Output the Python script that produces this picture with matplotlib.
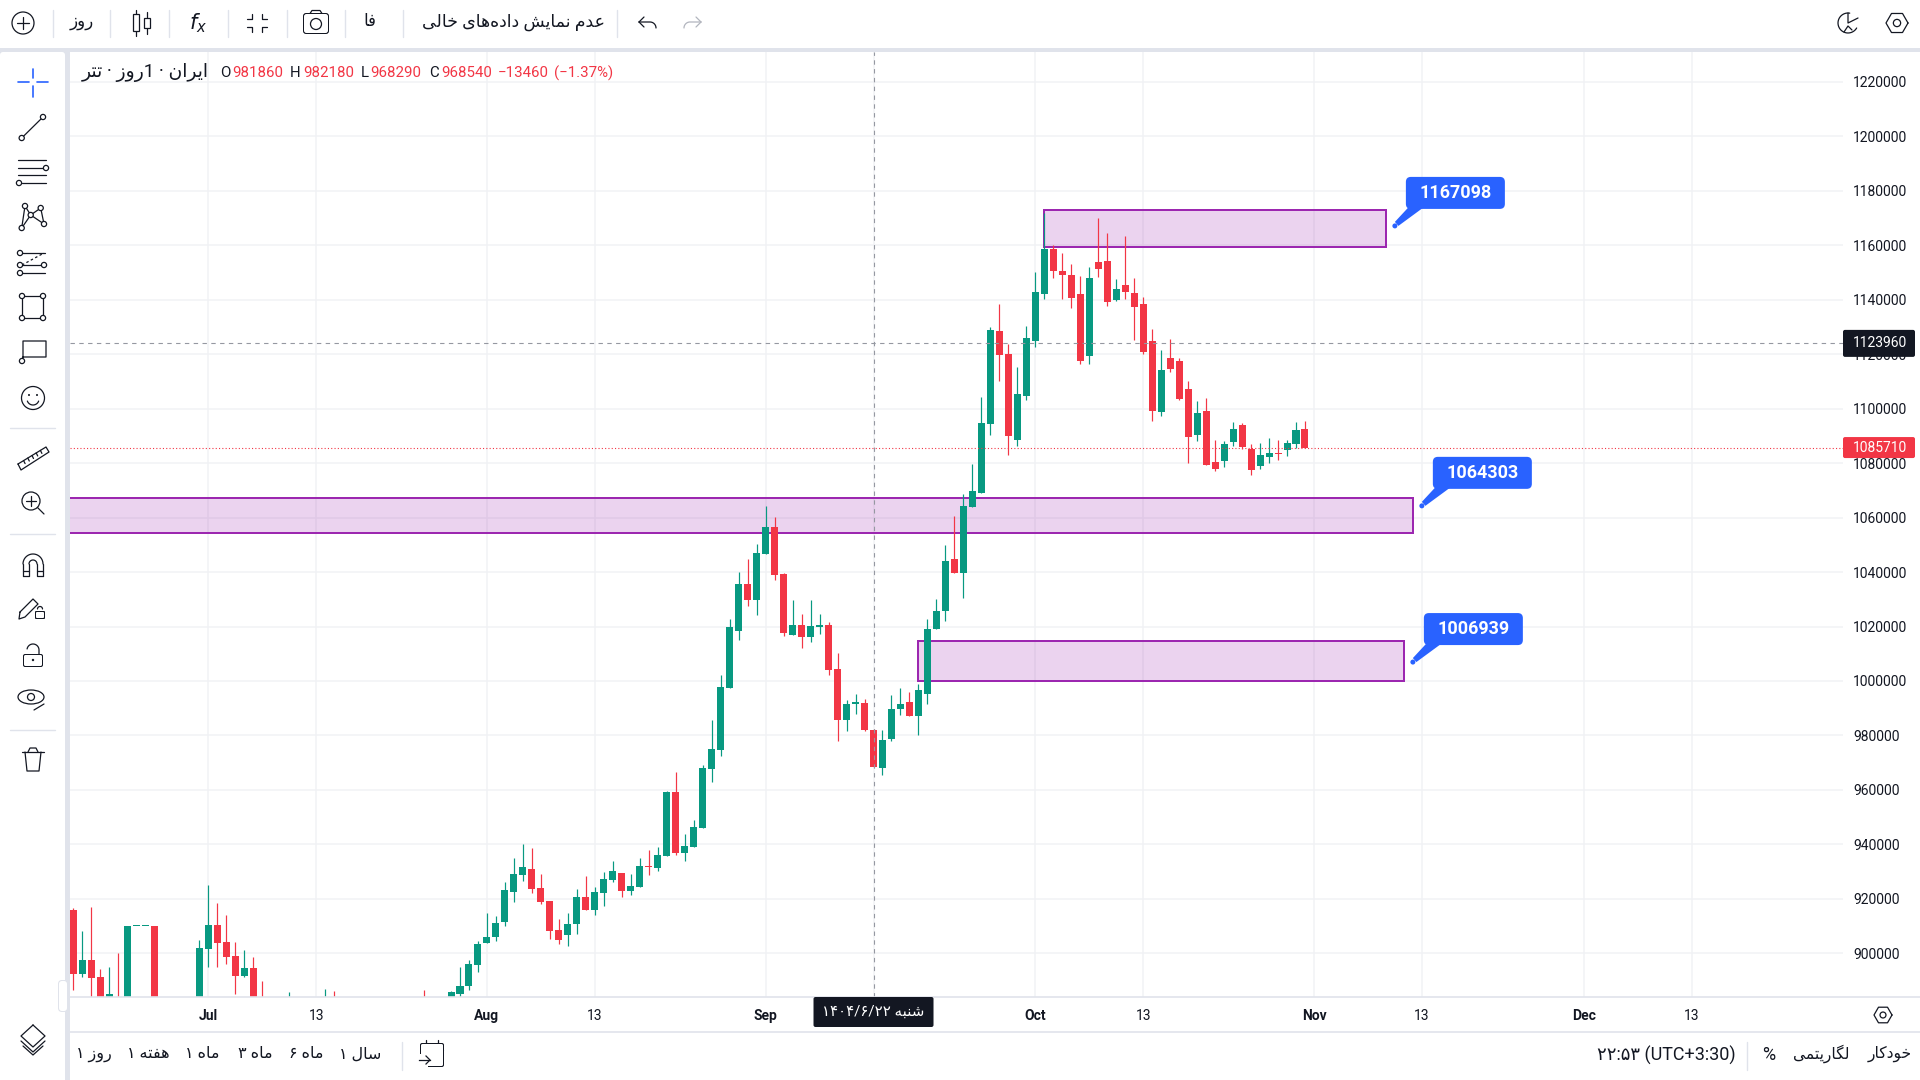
import numpy as np
import pandas as pd
import matplotlib
matplotlib.use("Agg")
import matplotlib.pyplot as plt
import matplotlib.dates as mdates
from matplotlib.patches import Rectangle, Circle, Ellipse, Polygon, FancyBboxPatch

plt.rcParams["font.family"] = ["Roboto", "DejaVu Sans"]

INK = "#131722"
GREEN = "#089981"
RED = "#f23645"
BLUE = "#2962ff"
PAGE = "#e0e3eb"
GRID = "#f1f2f5"
CROSS = "#9598a1"
PX = 0.72  # one pixel in points at dpi 100

# daily candles, 2025-06-16 .. 2025-10-31, nan = below the visible price range
n = np.nan
opens = [915900, 892400, 897540, 891300, 880000, 882000, 880000, 910000, 910000, 910000, n, n, n, n, 880000,
         901580, 910390, 904150, 899010, 891660, 894600, 882000, n, n, 878000, n, n, n, 878000, 881000,
         n, n, n, n, n, n, n, n, n, 881000, n, n, 883000, 885060, 887990, 895700, 903780, 905990, 911490,
         922510, 928750, 930950, 923980, 919200, 908560, 906720, 910760, 920670, 915900, 922150, 926910,
         929490, 922880, 924340, 932060, 931320, 935730, 959230, 936830, 939030, 946010, 967670, 974650,
         997420, 1018350, 1035610, 1029740, 1046630, 1056540, 1039290, 1016880, 1020550, 1016150, 1019820,
         1020550, 1004400, 985670, 991700, 991915, 981860, 968040, 978700, 989710, 992280, 987140, 995220,
         1019090, 1025700, 1044790, 1039650, 1063880, 1069020, 1094360, 1128510, 1120060, 1088480, 1104640,
         1124840, 1142100, 1158620, 1150540, 1149070, 1142100, 1119330, 1153850, 1154210, 1139890, 1145400,
         1142460, 1138420, 1124840, 1098770, 1118590, 1117500, 1107210, 1090320, 1099130, 1080400, 1080770,
         1087750, 1093990, 1085180, 1078940, 1082240, 1083710, 1084810, 1087010, 1092530]
highs = [916600, 908190, 917000, 894200, 895000, 900110, 910000, 910000, 910000, 910000, n, n, n, n, 904900,
         925080, 918470, 914060, 904150, 901210, 898640, 889830, n, n, 885790, n, n, n, 886890, 886160,
         n, n, n, n, n, n, n, n, n, 886520, n, n, 886160, 894970, 897540, 904520, 914800, 913700, 926180,
         934990, 940130, 938660, 929120, 919200, 912600, 914800, 923610, 928380, 924340, 929850, 933890,
         929490, 929120, 934990, 937930, 939030, 959600, 966570, 943800, 948950, 969140, 985670, 1002190,
         1022760, 1040020, 1044790, 1050300, 1064250, 1060210, 1039650, 1029740, 1024600, 1029740, 1024600,
         1021660, 1010270, 993020, 995220, 993380, 982180, 981990, 994850, 997420, 995950, 998890, 1022760,
         1030100, 1049930, 1060580, 1068660, 1079670, 1104270, 1129980, 1138420, 1123740, 1115290, 1130340,
         1150170, 1172000, 1160090, 1157150, 1153110, 1148700, 1152010, 1170000, 1164500, 1147600, 1163400,
         1147970, 1141000, 1129240, 1121530, 1125570, 1118590, 1110150, 1102800, 1103910, 1088480, 1088120,
         1095090, 1094730, 1087010, 1087380, 1089220, 1088480, 1088480, 1095090, 1095460]
lows = [886500, 891300, 880000, 878000, 878000, 877000, 878000, 910000, 910000, 878000, n, n, n, n, 878000,
        894970, 894970, 896070, 885060, 891300, 880000, 878000, n, n, 877000, n, n, n, 877000, 877000,
        n, n, n, n, n, n, n, n, n, 877000, n, n, 882000, 883000, 886520, 893130, 903780, 904520, 910030,
        918840, 926550, 922150, 918100, 905250, 903410, 902680, 907090, 915900, 914060, 917370, 926180,
        920670, 921410, 924340, 928750, 930220, 935730, 936100, 933890, 939030, 946010, 962900, 972440,
        997420, 1015050, 1027530, 1024230, 1046630, 1037080, 1016520, 1016880, 1012110, 1014310, 1017250,
        1002200, 977960, 981630, 987870, 981630, 968290, 965480, 977960, 987510, 987140, 980170, 991550,
        1019090, 1022030, 1039650, 1030470, 1063880, 1069020, 1090320, 1110150, 1082980, 1086280, 1103170,
        1122630, 1140260, 1147970, 1140260, 1136950, 1116390, 1116390, 1148340, 1137690, 1139530, 1140260,
        1125200, 1120060, 1095460, 1097300, 1113450, 1103170, 1080040, 1088120, 1079300, 1077100, 1078570,
        1086280, 1085180, 1075630, 1077840, 1080040, 1081130, 1082610, 1085550, 1085710]
closes = [892400, 897540, 890930, 880000, 885060, 878000, 910000, 910000, 910000, 880000, n, n, n, n, 901950,
          910390, 903780, 898640, 891660, 894600, 882000, 879000, n, n, 881000, n, n, n, 881000, 878000,
          n, n, n, n, n, n, n, n, n, 878000, n, n, 885790, 887990, 896070, 903420, 905990, 911130, 923244,
          929120, 931690, 923610, 918840, 908190, 904880, 910760, 920670, 915900, 922510, 927280, 930220,
          922880, 924710, 932060, 931700, 936100, 959230, 936830, 939400, 946380, 968040, 975020, 997790,
          1019820, 1035610, 1029740, 1047000, 1056540, 1038920, 1017620, 1020550, 1016150, 1020190, 1020550,
          1004030, 985670, 991550, 991900, 982000, 968540, 978330, 989710, 991550, 987140, 996690, 1019090,
          1025700, 1044060, 1039650, 1064250, 1069760, 1094730, 1128880, 1119700, 1089950, 1105380, 1125940,
          1142830, 1158620, 1150540, 1149070, 1140630, 1117490, 1147970, 1151280, 1139160, 1143930, 1142830,
          1137320, 1120800, 1099130, 1114190, 1114560, 1103540, 1089580, 1098400, 1079300, 1077840, 1087010,
          1092530, 1085910, 1077470, 1082980, 1083710, 1083340, 1087380, 1092150, 1085710]
first_day = "2025-06-16"

# marked supply/demand zones
zone_starts = ["2025-05-20", "2025-09-18", "2025-10-02"]
zone_ends = ["2025-11-12", "2025-11-11", "2025-11-09"]
zone_tops = [1067310, 1014680, 1172900]
zone_bottoms = [1054455, 999990, 1159354]
note_days = ["2025-11-13", "2025-11-12", "2025-11-10"]
note_values = [1064303, 1006939, 1167098]

price_ticks = list(range(900000, 1220001, 20000))
month_ticks = ["2025-07-01", "2025-08-01", "2025-09-01", "2025-10-01", "2025-11-01", "2025-12-01"]
month_names = ["Jul", "Aug", "Sep", "Oct", "Nov", "Dec"]
mid_ticks = ["2025-07-13", "2025-08-13", "2025-09-13", "2025-10-13", "2025-11-13", "2025-12-13"]
cross_day = "2025-09-13"
cross_price = 1123960

# arabic letter forms: isolated, final, initial, medial
FORMS = {
    "ا": (0xFE8D, 0xFE8E), "د": (0xFEA9, 0xFEAA), "ر": (0xFEAD, 0xFEAE), "ز": (0xFEAF, 0xFEB0), "و": (0xFEED, 0xFEEE),
    "ب": (0xFE8F, 0xFE90, 0xFE91, 0xFE92), "ت": (0xFE95, 0xFE96, 0xFE97, 0xFE98),
    "خ": (0xFEA5, 0xFEA6, 0xFEA7, 0xFEA8), "س": (0xFEB1, 0xFEB2, 0xFEB3, 0xFEB4),
    "ش": (0xFEB5, 0xFEB6, 0xFEB7, 0xFEB8), "ع": (0xFEC9, 0xFECA, 0xFECB, 0xFECC),
    "ف": (0xFED1, 0xFED2, 0xFED3, 0xFED4), "ک": (0xFB8E, 0xFB8F, 0xFB90, 0xFB91),
    "گ": (0xFB92, 0xFB93, 0xFB94, 0xFB95), "ل": (0xFEDD, 0xFEDE, 0xFEDF, 0xFEE0),
    "م": (0xFEE1, 0xFEE2, 0xFEE3, 0xFEE4), "ن": (0xFEE5, 0xFEE6, 0xFEE7, 0xFEE8),
    "ه": (0xFEE9, 0xFEEA, 0xFEEB, 0xFEEC), "ی": (0xFBFC, 0xFBFD, 0xFBFE, 0xFBFF),
}


def fa(text):
    # matplotlib does no shaping, so join the letters and lay them out right to left
    out = []
    for k, ch in enumerate(text):
        if ch == "\u200c":
            continue
        if ch not in FORMS:
            out.append(ch)
            continue
        f = FORMS[ch]
        prev = text[k - 1] if k else ""
        nxt = text[k + 1] if k + 1 < len(text) else ""
        join_prev = prev in FORMS and len(FORMS[prev]) == 4
        join_next = nxt in FORMS and len(f) == 4
        if join_prev and join_next:
            out.append(chr(f[3]))
        elif join_next:
            out.append(chr(f[2]))
        elif join_prev:
            out.append(chr(f[1]))
        else:
            out.append(chr(f[0]))
    return "".join(reversed(out))


fig = plt.figure(figsize=(19.2, 10.8), dpi=100, facecolor=PAGE)


def pane_rect(x0, y0, x1, y1):
    return [x0 / 1920, 1 - y1 / 1080, (x1 - x0) / 1920, (y1 - y0) / 1080]


bg = fig.add_axes([0, 0, 1, 1], zorder=0)
bg.set_xlim(0, 1920)
bg.set_ylim(1080, 0)
bg.axis("off")
bg.add_patch(Rectangle((0, 0), 1920, 48, fc="white", ec="none"))
bg.add_patch(FancyBboxPatch((3, 55), 59, 1030, boxstyle="round,pad=3,rounding_size=3", fc="white", ec="none"))
bg.add_patch(Rectangle((70, 52), 1850, 1028, fc="white", ec="none"))

# price pane
ax = fig.add_axes(pane_rect(70, 52, 1843, 997.3), zorder=1)
dates = pd.date_range(first_day, periods=len(opens), freq="D")
xs = mdates.date2num(dates)
o, h, l, c = map(lambda v: np.array(v, dtype=float), (opens, highs, lows, closes))
rising = c >= o

for sp in ax.spines.values():
    sp.set_visible(False)
ax.set_xlim(mdates.date2num(pd.Timestamp("2025-07-01")) - 15.385, mdates.date2num(pd.Timestamp("2025-07-01")) + 181.85)
ax.set_ylim(883843, 1230957)
ax.set_axisbelow(True)
ax.grid(True, color=GRID, lw=1.5 * PX)

ax.yaxis.tick_right()
ax.set_yticks(price_ticks)
ax.set_yticklabels([str(p) for p in price_ticks], fontsize=10, color=INK)
ax.tick_params(axis="y", length=0, pad=7.2)
tick_days = sorted(month_ticks + mid_ticks)
ax.set_xticks(mdates.date2num(pd.to_datetime(tick_days)))
tick_names = []
for d in tick_days:
    if d in month_ticks:
        tick_names.append(month_names[month_ticks.index(d)])
    else:
        # the crosshair date tag sits on this day's label
        tick_names.append("" if d == cross_day else "13")
ax.set_xticklabels(tick_names, fontsize=10, color=INK)
for lab in ax.get_xticklabels():
    if lab.get_text() != "13":
        lab.set_fontweight("bold")
ax.tick_params(axis="x", length=0, pad=8.3)

# zones
for s, e, t, b in zip(zone_starts, zone_ends, zone_tops, zone_bottoms):
    x0 = mdates.date2num(pd.Timestamp(s))
    x1 = mdates.date2num(pd.Timestamp(e))
    ax.add_patch(Rectangle((x0, b), x1 - x0, t - b, fc=(156 / 255, 39 / 255, 176 / 255, 0.2),
                           ec="#9c27b0", lw=2 * PX, zorder=2))

# candles
for mask, col in ((rising, GREEN), (~rising, RED)):
    keep = mask & ~np.isnan(o)
    ax.vlines(xs[keep], l[keep], h[keep], color=col, lw=1.2 * PX, zorder=3)
    lo = np.minimum(o[keep], c[keep])
    tall = np.maximum(np.abs(c[keep] - o[keep]), 500)
    ax.bar(xs[keep], tall, bottom=lo, width=0.78, color=col, lw=0, zorder=3)

# crosshair and last price lines
ax.axvline(mdates.date2num(pd.Timestamp(cross_day)), color=CROSS, lw=1.1 * PX, ls=(0, (4, 4)), zorder=4)
ax.axhline(cross_price, color=CROSS, lw=1.1 * PX, ls=(0, (4, 4)), zorder=4)
ax.axhline(closes[-1], color=RED, lw=1.1 * PX, ls=(0, (1, 2)), zorder=4)

# everything above the pane is laid out in pixels
ui = fig.add_axes([0, 0, 1, 1], zorder=2)
ui.set_xlim(0, 1920)
ui.set_ylim(1080, 0)
ui.axis("off")


def to_px(day, value):
    x, y = ax.transData.transform((mdates.date2num(pd.Timestamp(day)), value))
    return x, 1080 - y


def seg(*pts, c=INK, lw=0.9):
    ui.plot([p[0] for p in pts], [p[1] for p in pts], color=c, lw=lw, solid_capstyle="round", solid_joinstyle="round")


def node(x, y, r=2.6, lw=0.9):
    ui.add_patch(Circle((x, y), r, fc="white", ec=INK, lw=lw, zorder=3))


def ring(x, y, r, lw=0.9, ec=INK):
    ui.add_patch(Circle((x, y), r, fc="none", ec=ec, lw=lw, zorder=3))


def arc(x, y, r, a0, a1):
    t = np.radians(np.linspace(a0, a1, 30))
    return list(zip(x + r * np.cos(t), y - r * np.sin(t)))


def rounded(x0, y0, w, h, r, col, z=3):
    ui.add_patch(FancyBboxPatch((x0 + r, y0 + r), w - 2 * r, h - 2 * r, boxstyle=f"round,pad={r},rounding_size={r}",
                                fc=col, ec="none", zorder=z))


def put(x, y, s, size=10, col=INK, ha="center", **kw):
    ui.text(x, y, s, fontsize=size, color=col, ha=ha, va="center", zorder=5, **kw)


# separators
seg((70, 997.3), (1920, 997.3), c=PAGE, lw=1.2)
seg((70, 1031.5), (1920, 1031.5), c=PAGE, lw=1.2)
for x in [53, 110, 169, 228, 287, 345, 403, 617]:
    seg((x, 10), (x, 37), c=PAGE, lw=1.0)
for x in [402, 1747]:
    seg((x, 1042), (x, 1070), c=PAGE, lw=1.0)
for y in [428, 534, 730]:
    seg((10, y), (55, y), c=PAGE, lw=1.0)

# top bar
ring(23, 23, 11)
seg((17, 23), (29, 23))
seg((23, 17), (23, 29))
put(82, 22, fa("روز"), 12)
seg((136, 10), (136, 36))
ui.add_patch(Rectangle((133, 14), 6, 17, fc="white", ec=INK, lw=0.9, zorder=3))
seg((147, 12), (147, 34))
ui.add_patch(Rectangle((144, 18), 6, 10, fc="white", ec=INK, lw=0.9, zorder=3))
put(198, 23, r"$f_x$", 15)
for sx, sy in ((-1, -1), (1, -1), (-1, 1), (1, 1)):
    seg((257 + sx * 10, 23 + sy * 4), (257 + sx * 5, 23 + sy * 4), (257 + sx * 5, 23 + sy * 9))
rounded(303, 13, 26, 21, 3, INK)
rounded(304, 14, 24, 19, 2.5, "white")
seg((310, 13.5), (312, 10.5), (320, 10.5), (322, 13.5))
ring(316, 24, 5.5)
put(370, 21, fa("فا"), 12)
put(514, 22, fa("عدم نمایش داده\u200cهای خالی"), 12.5)
seg((639, 22), (644, 17))
seg((639, 22), (644, 27))
seg((639, 22), (650, 22), *arc(650, 28, 6, 90, 0))
for d in [(-5, -5), (-5, 5)]:
    seg((701, 22), (701 + d[0], 22 + d[1]), c="#b2b5be")
seg((701, 22), (690, 22), *arc(690, 28, 6, 90, 180), c="#b2b5be")
seg(*arc(1848, 23, 10, 80, 330))
seg((1848, 13), (1848, 23), (1858, 18))
seg((1844, 32), (1848, 26), (1852, 30))


def hexagon(x, y, r):
    pts = [(x + r * np.cos(np.radians(a)), y + r * np.sin(np.radians(a))) for a in range(0, 361, 60)]
    seg(*pts)
    ring(x, y, r * 0.33)


hexagon(1897, 23, 11)
hexagon(1883, 1015, 9)

# left bar
seg((18, 82), (29, 82), c=BLUE, lw=1.2)
seg((37, 82), (48, 82), c=BLUE, lw=1.2)
seg((33, 69), (33, 78), c=BLUE, lw=1.2)
seg((33, 86), (33, 97), c=BLUE, lw=1.2)
seg((21.7, 138), (43, 117))
node(21.7, 138)
node(43, 117)
for y, x0 in ((160, 18), (168, 18), (175, 18), (183, 22)):
    seg((x0, y), (46, y))
node(46, 168)
node(19, 183)
fork = [(25, 206), (40.7, 208), (21.7, 228), (30.7, 215), (44, 224)]
seg(fork[0], fork[3], fork[1], fork[4], fork[3], fork[2], fork[0])
for p in fork:
    node(*p)
for y in (253, 265, 273):
    seg((20, y), (45, y))
ui.plot([22, 44], [265, 253], color=INK, lw=0.9, ls=(0, (2, 2)))
for p in ((20, 253), (20, 265), (20, 273), (44, 265)):
    node(*p)
seg((22, 296), (43, 296), (43, 318), (22, 318), (22, 296))
for p in ((22, 296), (43, 296), (43, 318), (22, 318)):
    node(*p)
seg((23, 357), (23, 341), (46, 341), (46, 357), (23, 357), (22, 361))
node(22, 361)
ring(33, 398, 11.5)
ring(29, 395, 0.4)
ring(37, 395, 0.4)
seg(*arc(33, 399, 6, 200, 340))
ruler = [(18, 464), (46, 447), (49, 452), (21, 470), (18, 464)]
seg(*ruler)
for t in np.linspace(0.2, 0.8, 5):
    x, y = 18 + 28 * t, 464 - 17 * t
    seg((x, y), (x + 1.5, y + 3))
ring(31, 501, 9)
seg((37.5, 507.5), (44, 514))
seg((26, 501), (36, 501))
seg((31, 496), (31, 506))
for x in (23, 43):
    seg((x, 564), (x, 576), )
seg((23, 564), *arc(33, 564, 10, 180, 0), (43, 564))
seg((29, 564), *arc(33, 564, 4, 180, 0), (37, 564))
seg((23, 576), (29, 576), (29, 564))
seg((37, 564), (37, 576), (43, 576))
seg((23, 571), (29, 571))
seg((37, 571), (43, 571))
seg((20, 612), (33, 599), (38, 604), (25, 617), (19, 619), (20, 612))
rounded(35, 611, 10, 8, 1, INK)
rounded(36, 612, 8, 6, 1, "white")
seg(*arc(40, 609, 2.5, 180, 0))
rounded(23, 654, 20, 13, 2, INK)
rounded(24, 655, 18, 11, 1.5, "white")
seg((39, 654), (39, 650), *arc(33, 650, 6, 0, 170))
ui.add_patch(Circle((33, 660), 1.2, fc=INK, ec="none", zorder=4))
ui.add_patch(Ellipse((31, 697), 26, 14, fc="none", ec=INK, lw=0.9, zorder=3))
ring(31, 697, 3.5)
seg((34, 710), (44, 704))
seg((22, 752), (44, 752))
seg((25, 752), (27, 771), (39, 771), (41, 752))
seg((28, 752), (30, 748), (36, 748), (38, 752))
seg((33, 1025), (45, 1036), (33, 1047), (21, 1036), (33, 1025))
seg((21, 1041), (33, 1052), (45, 1041))
seg((23, 1046), (33, 1055), (43, 1046))
rounded(58, 980, 10, 32, 4, PAGE, z=2)
rounded(59, 981, 8, 30, 3, "white", z=3)
seg((64, 992), (62, 996), (64, 1000), c="#9598a1")

# legend line
cross_i = list(dates).index(pd.Timestamp(cross_day))
change = closes[cross_i] - closes[cross_i - 1]
pct = 100 * change / closes[cross_i - 1]
put(82, 72, fa("تتر") + " · " + fa("روز") + "1 · " + fa("ایران"), 13.5, ha="left")
for x, s in ((220, "O"), (290, "H"), (361, "L"), (429, "C")):
    put(x, 73, s, 10.8, ha="left")
for x, v in ((232, opens[cross_i]), (303, highs[cross_i]), (370, lows[cross_i]), (441, closes[cross_i])):
    put(x, 73, str(v), 10.8, col=RED, ha="left")
put(498, 73, f"\u2212{abs(change)}", 10.8, col=RED, ha="left")
put(554, 73, f"(\u2212{abs(pct):.2f}%)", 10.8, col=RED, ha="left")

# price tags on the axis
for value, col, tall in ((cross_price, INK, 27), (closes[-1], RED, 21)):
    _, py = to_px(cross_day, value)
    rounded(1843, py - tall / 2, 72, tall, 2, col, z=4)
    put(1880, py, str(value), 10, col="white")

# date tag under the crosshair
cx, _ = to_px(cross_day, cross_price)
rounded(cx - 60, 997, 120, 30, 2, INK, z=4)
put(cx, 1012, "۱۴۰۴/۶/۲۲ " + fa("شنبه"), 10.8, col="white")

# callouts on the zones
for day, value in zip(note_days, note_values):
    px, py = to_px(day, value)
    left, top = px + 11, py - 49
    ui.add_patch(Polygon([(left + 2, top + 31), (left + 17, top + 31), (px + 3.5, py), (px, py - 4)],
                         fc=BLUE, ec="none", zorder=3))
    rounded(left, top, 99, 32, 5, BLUE)
    ui.add_patch(Circle((px, py), 2.5, fc=BLUE, ec="none", zorder=3))
    put(left + 49.5, top + 16, str(value), 13, col="white", fontweight="bold")

# bottom bar
for x, s in ((94, "روز ۱"), (148, "هفته ۱"), (202, "ماه ۱"), (255, "ماه ۳"), (306, "ماه ۶"), (360, "سال ۱")):
    put(x, 1054, fa(s), 11.5)
rounded(420, 1043, 24, 24, 2, INK)
rounded(421, 1044, 22, 22, 1.5, "white")
seg((421, 1050), (443, 1050))
seg((426, 1040), (426, 1046))
seg((438, 1040), (438, 1046))
ui.add_patch(Rectangle((418, 1054), 10, 14, fc="white", ec="none", zorder=4))
ui.plot([419, 430], [1060, 1060], color=INK, lw=0.9, zorder=5)
ui.plot([426, 430, 426], [1056, 1060, 1064], color=INK, lw=0.9, zorder=5)
put(1890, 1054, fa("خودکار"), 11.2)
put(1821, 1054, fa("لگاریتمی"), 11.2)
put(1769, 1055, "%", 13)
put(1666, 1055, "۲۲:۵۳ (UTC+3:30)", 13)

fig.savefig("out.png", dpi=100, facecolor=PAGE)
